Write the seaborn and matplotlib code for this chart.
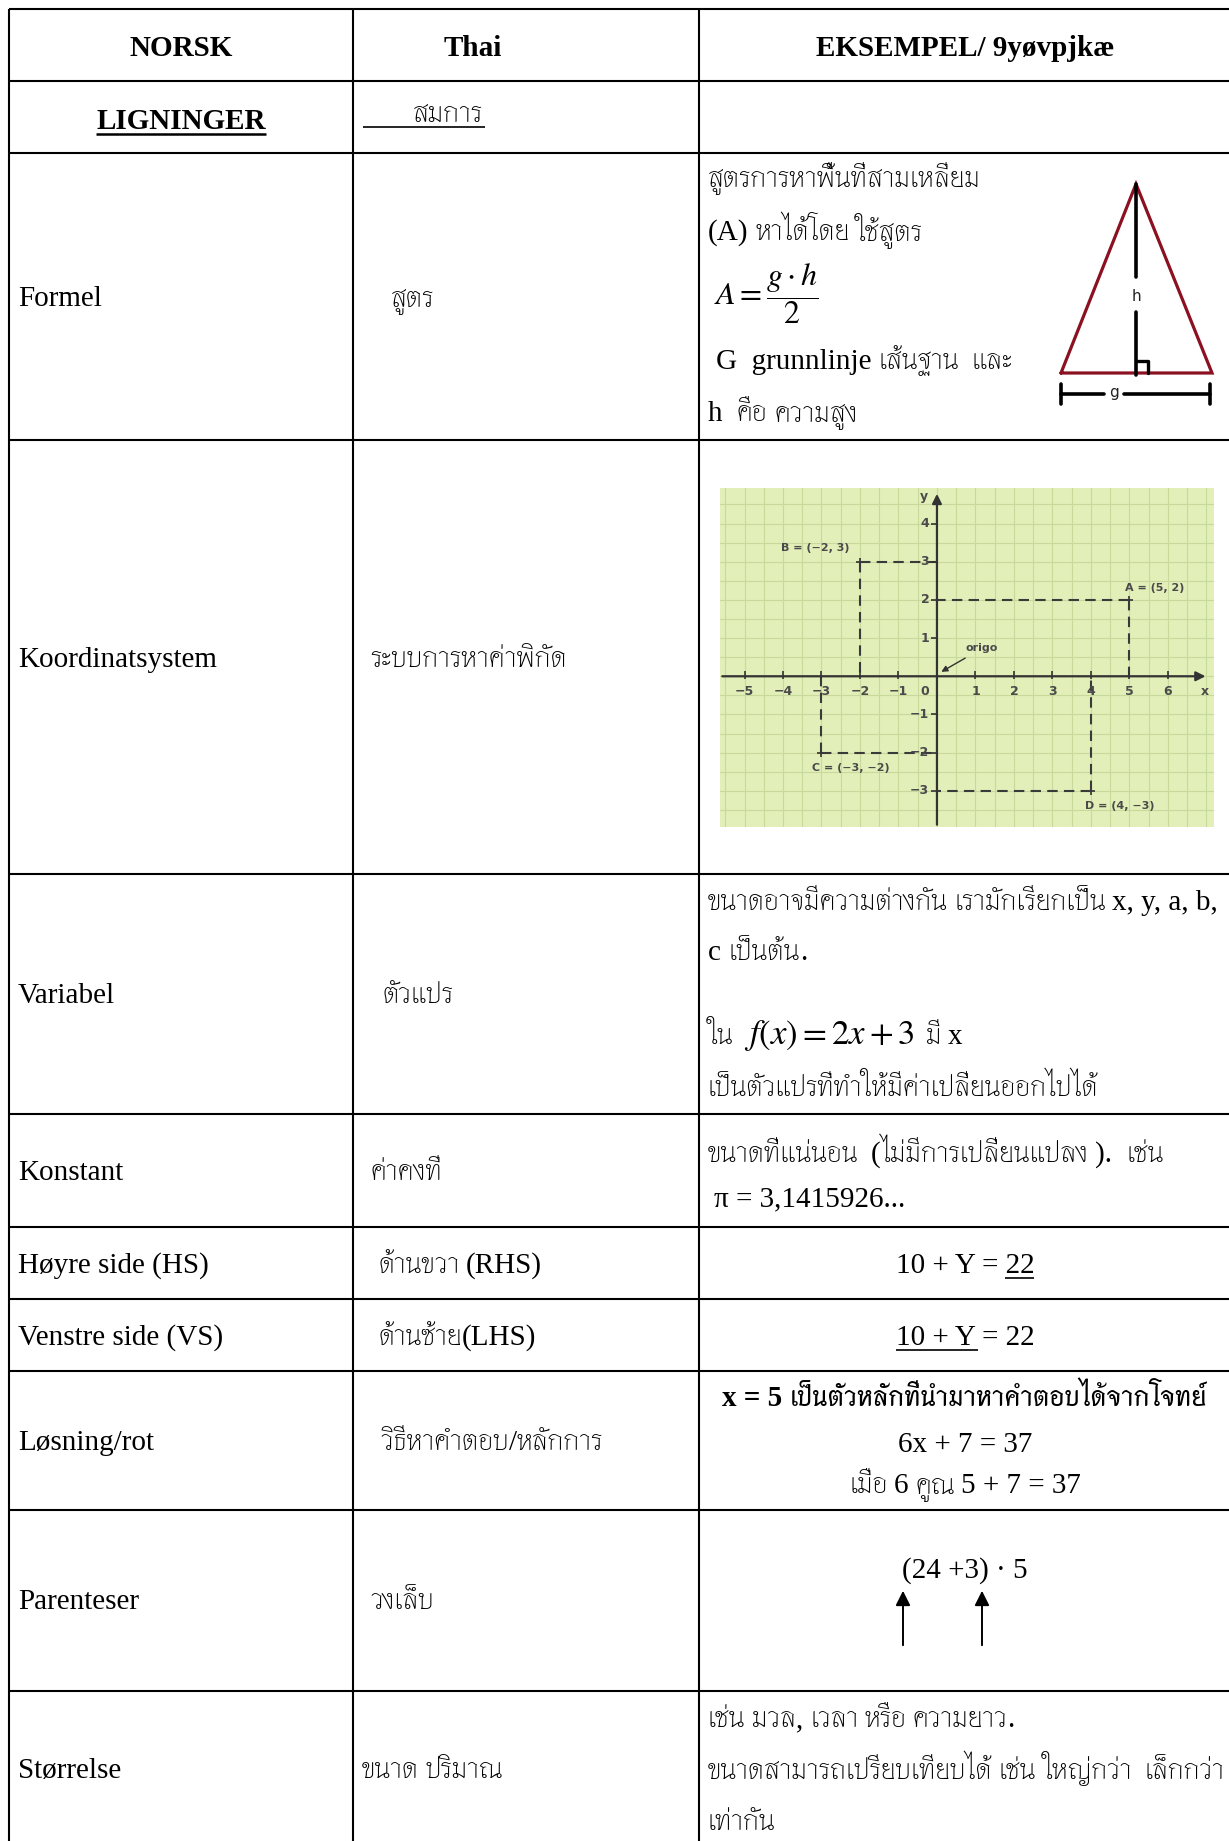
import re
import matplotlib
matplotlib.use("Agg")
import matplotlib.pyplot as plt
import seaborn as sns
import pandas as pd
import numpy as np
from matplotlib import font_manager


def thai_fonts():
    # every installed family that carries Thai glyphs
    try:
        from fontTools.ttLib import TTFont
    except ImportError:
        return []
    names = []
    for f in font_manager.fontManager.ttflist:
        if f.name in names or "Mono" in f.name or "Typ" in f.name:
            continue
        try:
            cmap = TTFont(f.fname, fontNumber=0, lazy=True).getBestCmap()
            if cmap and 0x0E2A in cmap and 0x0E4C in cmap:
                names.append(f.name)
        except Exception:
            continue
    return names


# ---- table content ----
header = ["NORSK", "Thai", "EKSEMPEL/ 9yøvpjkæ"]
section = ["LIGNINGER", "สมการ"]
norsk_terms = ["Formel", "Koordinatsystem", "Variabel", "Konstant", "Høyre side (HS)",
               "Venstre side (VS)", "Løsning/rot", "Parenteser", "Størrelse"]
thai_terms = ["สูตร", "ระบบการหาค่าพิกัด", "ตัวแปร", "ค่าคงที่", "ด้านขวา (RHS)",
              "ด้านซ้าย(LHS)", "วิธีหาคำตอบ/หลักการ", "วงเล็บ", "ขนาด ปริมาณ"]
formel_lines = ["สูตรการหาพื้นที่สามเหลี่ยม", "(A) หาได้โดย ใช้สูตร",
                r"$A=\dfrac{g\cdot h}{2}$", "G  grunnlinje เส้นฐาน  และ", "h  คือ ความสูง"]
variabel_lines = ["ขนาดอาจมีความต่างกัน เรามักเรียกเป็น x, y, a, b,", "c เป็นต้น.",
                  "เป็นตัวแปรที่ทำให้มีค่าเปลี่ยนออกไปได้"]
variabel_math = ["ใน", r"$f(x) = 2x + 3$", "มี x"]
konstant_lines = ["ขนาดที่แน่นอน  (ไม่มีการเปลี่ยนแปลง ).  เช่น", "π = 3,1415926..."]
losning_lines = ["x = 5 เป็นตัวหลักที่นำมาหาคำตอบได้จากโจทย์", "6x + 7 = 37", "เมื่อ 6 คูณ 5 + 7 = 37"]
paren_expr = "(24 +3) · 5"
storrelse_lines = ["เช่น มวล, เวลา หรือ ความยาว.",
                   "ขนาดสามารถเปรียบเทียบได้ เช่น ใหญ่กว่า  เล็กกว่า", "เท่ากัน"]

# ---- coordinate system example ----
point_names = ["A", "B", "C", "D"]
point_x = [5, -2, -3, 4]
point_y = [2, 3, -2, -3]
x_ticks = [-5, -4, -3, -2, -1, 1, 2, 3, 4, 5, 6]
y_ticks = [-3, -2, -1, 1, 2, 3, 4]

W, H = 1229, 1841
sns.set_style("white")
LATIN = ["Liberation Serif", "DejaVu Sans"]
plt.rcParams["font.family"] = LATIN
plt.rcParams["mathtext.fontset"] = "stix"
plt.rcParams["text.color"] = "black"

fig = plt.figure(figsize=(W / 100, H / 100), dpi=100)
fig.patch.set_facecolor("white")
ax = fig.add_axes([0, 0, 1, 1])
ax.set_xlim(0, W)
ax.set_ylim(H, 0)
ax.axis("off")
fig.canvas.draw()
rend = fig.canvas.get_renderer()

FS = 21
LW = 1.5
IS_THAI = re.compile(r"[\u0e00-\u0e7f]")


def width_of(s, **kw):
    t = ax.text(0, 0, s, **kw)
    w = t.get_window_extent(rend).width
    t.remove()
    return w


# pick the Thai face whose width is closest to the document's, and a size factor for it
sample = formel_lines[0]
target = 273.0
best, best_k = None, 1.0
for name in thai_fonts():
    k = target / max(width_of(sample, fontsize=FS, family=[name]), 1)
    if best is None or abs(np.log(k)) < abs(np.log(best_k)):
        best, best_k = name, k
THAI = [best] + LATIN if best else LATIN
KTH = float(np.clip(best_k, 0.6, 1.25))
SPACE = width_of("x x", fontsize=FS) - width_of("xx", fontsize=FS)


def items_for(s, size=FS, **kw):
    toks = re.findall(r"[\u0e00-\u0e7f]+|[^\u0e00-\u0e7f]+", s)
    out = []
    for tok in toks:
        if IS_THAI.match(tok):
            k = KTH * (0.95 if kw.get("weight") == "bold" else 1.0)
            out.append([tok, dict(kw, fontsize=size * k, family=THAI), 0.0])
            continue
        lead = len(tok) - len(tok.lstrip(" "))
        trail = len(tok) - len(tok.rstrip(" "))
        core = tok.strip(" ")
        if not core:
            # only spaces between two Thai words
            if out:
                out[-1][2] += lead * SPACE * 0.85
            continue
        if lead and out:
            out[-1][2] += lead * SPACE * 0.85
        elif lead:
            out.append(["", dict(kw, fontsize=size), lead * SPACE])
        out.append([core, dict(kw, fontsize=size, family=LATIN), trail * SPACE])
    return out


def lay_out(x, y, items, ha="left"):
    widths = [width_of(s, **kw) if s else 0.0 for s, kw, _ in items]
    total = sum(widths) + sum(g for _, _, g in items[:-1])
    if ha == "center":
        x -= total / 2
    start = x
    for (s, kw, gap), w in zip(items, widths):
        if s:
            ax.text(x, y, s, ha="left", va="baseline", **kw)
        x += w + gap
    return start, start + total


def mixed(x, y, s, ha="left", size=FS, **kw):
    return lay_out(x, y, items_for(s, size=size, **kw), ha=ha)


def uline(xa, xb, y, lw=1.2):
    ax.plot([xa, xb], [y, y], color="black", lw=lw, solid_capstyle="butt")


# grid of the table
row_y = [9, 81, 153, 440, 874, 1114, 1227, 1299, 1371, 1510, 1691]
col_x = [9, 353, 699]
for y in row_y:
    ax.plot([col_x[0], W], [y, y], color="black", lw=LW, solid_capstyle="butt")
for x in col_x:
    ax.plot([x, x], [row_y[0], H], color="black", lw=LW, solid_capstyle="butt")

# header row
ax.text(181, 56, header[0], ha="center", va="baseline", fontsize=FS, weight="bold")
ax.text(473, 56, header[1], ha="center", va="baseline", fontsize=FS, weight="bold")
ax.text(965, 56, header[2], ha="center", va="baseline", fontsize=FS, weight="bold")

# section row
t = ax.text(181, 129, section[0], ha="center", va="baseline", fontsize=FS, weight="bold")
bb = t.get_window_extent(rend)
uline(bb.x0, bb.x1, 134, lw=1.8)
xa, xb = mixed(413, 122, section[1])
uline(363, xb + 2, 127)

# first two columns
norsk_base = [306, 667, 1003, 1180, 1273, 1345, 1450, 1609, 1778]
thai_x = [391, 370, 383, 370, 378, 378, 381, 370, 362]
for name, th, yb, tx in zip(norsk_terms, thai_terms, norsk_base, thai_x):
    ax.text(18, yb, name, ha="left", va="baseline", fontsize=FS)
    mixed(tx, yb, th)

# Formel example
mixed(708, 187, formel_lines[0])
mixed(708, 240, formel_lines[1])
ax.text(714, 305, formel_lines[2], va="baseline", fontsize=23)
mixed(716, 369, formel_lines[3])
mixed(708, 421, formel_lines[4])

# triangle sketch
tri_x = [1061, 1136, 1212, 1061]
tri_y = [373, 184, 373, 373]
ax.plot(tri_x, tri_y, color="#8B1020", lw=2.3, solid_joinstyle="miter")
ax.plot([1136, 1136], [184, 277], color="black", lw=2.6)
ax.plot([1136, 1136], [312, 375], color="black", lw=2.6)
ax.plot([1136, 1148, 1148], [361, 361, 373], color="black", lw=2.4)
ax.text(1136, 296, "h", ha="center", va="center", fontsize=11, family="DejaVu Sans", color="#222")
ax.plot([1061, 1104], [394, 394], color="black", lw=2.6)
ax.plot([1124, 1210], [394, 394], color="black", lw=2.6)
ax.plot([1061, 1061], [384, 404], color="black", lw=2.6)
ax.plot([1210, 1210], [384, 404], color="black", lw=2.6)
ax.text(1114, 392, "g", ha="center", va="center", fontsize=11, family="DejaVu Sans", color="#222")

# Variabel example
mixed(708, 910, variabel_lines[0])
mixed(708, 960, variabel_lines[1])
its = items_for(variabel_math[0])
its[-1][2] = 10
its.append([variabel_math[1], dict(fontsize=25), 12])
its += items_for(variabel_math[2])
lay_out(708, 1044, its)
mixed(708, 1096, variabel_lines[2])

# Konstant example
mixed(708, 1162, konstant_lines[0])
ax.text(714, 1206, konstant_lines[1], va="baseline", fontsize=FS)

# HS / VS examples
t = ax.text(965, 1273, "10 + Y = 22", ha="center", va="baseline", fontsize=FS)
bb = t.get_window_extent(rend)
uline(bb.x1 - width_of("22", fontsize=FS), bb.x1, 1278)
t = ax.text(965, 1345, "10 + Y = 22", ha="center", va="baseline", fontsize=FS)
bb = t.get_window_extent(rend)
uline(bb.x0, bb.x0 + width_of("10 + Y", fontsize=FS) + 2, 1350)

# Løsning example
mixed(965, 1406, losning_lines[0], ha="center", weight="bold")
ax.text(965, 1452, losning_lines[1], ha="center", va="baseline", fontsize=FS)
mixed(965, 1493, losning_lines[2], ha="center")

# Parenteser example
ax.text(965, 1578, paren_expr, ha="center", va="baseline", fontsize=FS)
for arr_x in (903, 982):
    ax.annotate("", xy=(arr_x, 1588), xytext=(arr_x, 1648),
                arrowprops=dict(arrowstyle="-|>", color="black", lw=1.4, mutation_scale=22))

# Størrelse example
mixed(708, 1727, storrelse_lines[0])
mixed(708, 1779, storrelse_lines[1])
mixed(708, 1830, storrelse_lines[2])

# ---- coordinate picture ----
x0, x1, y0, y1 = 719.5, 1213.7, 488, 827.5
cax = fig.add_axes([x0 / W, 1 - y1 / H, (x1 - x0) / W, (y1 - y0) / H])
cax.set_facecolor("#e3efb8")

seg_rows = []
for n, px, py in zip(point_names, point_x, point_y):
    seg_rows += [(n + "h", px, py), (n + "h", 0, py), (n + "v", px, py), (n + "v", px, 0)]
seg_df = pd.DataFrame(seg_rows, columns=["seg", "x", "y"])
sns.lineplot(data=seg_df, x="x", y="y", units="seg", estimator=None, sort=False,
             color="#3a3a3a", lw=1.5, linestyle=(0, (5, 3)), ax=cax, legend=False)
pts = pd.DataFrame({"name": point_names, "x": point_x, "y": point_y})
sns.scatterplot(data=pts, x="x", y="y", marker="+", s=40, color="#333", linewidth=1.2, ax=cax, legend=False)

cax.set_xlim(-5.65, 7.19)
cax.set_ylim(-3.96, 4.93)
cax.set_xticks(np.arange(-5.5, 7.5, 0.5))
cax.set_yticks(np.arange(-3.5, 5.0, 0.5))
cax.grid(True, color="#c8d99c", lw=0.8)
cax.tick_params(length=0, labelbottom=False, labelleft=False)
cax.set_xlabel("")
cax.set_ylabel("")
for s in cax.spines.values():
    s.set_visible(False)

axis_col = "#333333"
cax.annotate("", xy=(7.05, 0), xytext=(-5.65, 0),
             arrowprops=dict(arrowstyle="-|>", color=axis_col, lw=1.6, mutation_scale=14))
cax.annotate("", xy=(0, 4.85), xytext=(0, -3.96),
             arrowprops=dict(arrowstyle="-|>", color=axis_col, lw=1.6, mutation_scale=14))
cax.vlines(x_ticks, -0.06, 0.14, color=axis_col, lw=1.2)
cax.hlines(y_ticks, -0.16, 0, color=axis_col, lw=1.2)

lab = dict(fontsize=9, color="#4a4a4a", family="DejaVu Sans", weight="bold")
for v in x_ticks:
    cax.text(v, -0.22, str(v).replace("-", "−"), ha="center", va="top", **lab)
for v in y_ticks:
    cax.text(-0.2, v, str(v).replace("-", "−"), ha="right", va="center", **lab)
cax.text(-0.32, -0.22, "0", ha="center", va="top", **lab)
cax.text(6.95, -0.22, "x", ha="center", va="top", **lab)
cax.text(-0.35, 4.72, "y", ha="center", va="center", **lab)

offsets = {"A": (0.65, 0.3), "B": (-1.15, 0.35), "C": (0.75, -0.4), "D": (0.75, -0.4)}
for n, px, py in zip(point_names, point_x, point_y):
    dx, dy = offsets[n]
    txt = f"{n} = ({px}, {py})".replace("-", "−")
    cax.text(px + dx, py + dy, txt, ha="center", va="center", fontsize=8, color="#4a4a4a",
             family="DejaVu Sans", weight="bold")
cax.annotate("origo", xy=(0.05, 0.08), xytext=(0.75, 0.65), fontsize=8, color="#4a4a4a",
             family="DejaVu Sans", weight="bold",
             arrowprops=dict(arrowstyle="-|>", color=axis_col, lw=1.0, mutation_scale=9))

fig.savefig("out.png", dpi=100)
